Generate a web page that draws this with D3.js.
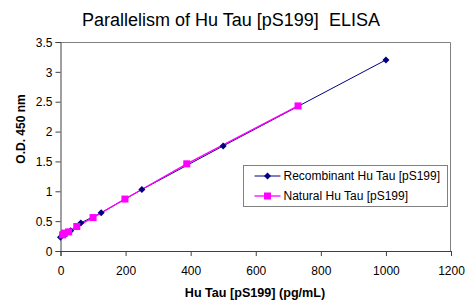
<!DOCTYPE html>
<html>
<head>
<meta charset="utf-8">
<script src="https://cdn.jsdelivr.net/npm/d3@7"></script>
<style>
  body { margin: 0; background: #fff; }
  text { font-family: Arial, "Liberation Sans", sans-serif; }
</style>
</head>
<body>
<div id="chart"></div>
<script>
// data
var recConc = [0, 15.6, 31.25, 62.5, 125, 250, 500, 1000];
var recOD   = [0.23, 0.28, 0.34, 0.47, 0.64, 1.03, 1.76, 3.2];
var natConc = [6.5, 12.5, 25, 50, 100, 198, 388, 730];
var natOD   = [0.27, 0.30, 0.32, 0.41, 0.56, 0.87, 1.46, 2.43];
var xTicks = [0, 200, 400, 600, 800, 1000, 1200];
var yTicks = [0, 0.5, 1, 1.5, 2, 2.5, 3, 3.5];

var W = 470, H = 301;
var margin = {top: 42, right: 19, bottom: 50, left: 60.5},
    width = W - margin.left - margin.right,
    height = H - margin.top - margin.bottom;

var svg = d3.select("#chart").append("svg")
    .attr("width", W)
    .attr("height", H);

var g = svg.append("g")
    .attr("transform", "translate(" + margin.left + "," + margin.top + ")");

var x = d3.scaleLinear().domain([0, 1200]).range([0, width]);
var y = d3.scaleLinear().domain([0, 3.5]).range([height, 0]);

// plot frame (top and right)
g.append("path")
    .attr("d", "M0,0.5H" + (width - 0.5) + "V" + height)
    .attr("fill", "none")
    .attr("stroke", "#808080");

var xAxis = d3.axisBottom(x).tickValues(xTicks).tickSize(5).tickFormat(d3.format("d"));
var yAxis = d3.axisLeft(y).tickValues(yTicks).tickSize(5).tickFormat(function(d) { return d; });

var gx = g.append("g")
    .attr("transform", "translate(0," + height + ")")
    .call(xAxis);
var gy = g.append("g").call(yAxis);

[gx, gy].forEach(function(a) {
  a.select(".domain").attr("stroke", "#404040");
  a.selectAll(".tick line").attr("stroke", "#404040");
  a.selectAll(".tick text")
    .attr("font-size", 12)
    .attr("fill", "#000")
    .style("font-family", "Arial, 'Liberation Sans', sans-serif");
});
gx.selectAll(".tick text").attr("dy", "0").attr("y", 24);
gy.selectAll(".tick text").attr("x", -8).attr("dy", "0.35em");

var recData = recConc.map(function(c, i) { return {c: c, v: recOD[i]}; });
var natData = natConc.map(function(c, i) { return {c: c, v: natOD[i]}; });

var line = d3.line()
    .x(function(d) { return x(d.c); })
    .y(function(d) { return y(d.v); });

g.append("path")
    .attr("d", line(recData))
    .attr("fill", "none")
    .attr("stroke", "#000080")
    .attr("stroke-width", 1);

g.append("path")
    .attr("d", line(natData))
    .attr("fill", "none")
    .attr("stroke", "#FF00FF")
    .attr("stroke-width", 1.3);

var diamond = function(s) { return "M0," + (-s) + "L" + s + ",0L0," + s + "L" + (-s) + ",0Z"; };

g.selectAll(".rec").data(recData).enter().append("path")
    .attr("class", "rec")
    .attr("transform", function(d) { return "translate(" + x(d.c) + "," + y(d.v) + ")"; })
    .attr("d", diamond(3.5))
    .attr("fill", "#000080");

g.selectAll(".nat").data(natData).enter().append("rect")
    .attr("class", "nat")
    .attr("x", function(d) { return x(d.c) - 3.5; })
    .attr("y", function(d) { return y(d.v) - 3.5; })
    .attr("width", 7)
    .attr("height", 7)
    .attr("fill", "#FF00FF");

// title and axis labels
svg.append("text")
    .attr("x", 231)
    .attr("y", 26)
    .attr("text-anchor", "middle")
    .attr("font-size", 18)
    .style("white-space", "pre")
    .text("Parallelism of Hu Tau [pS199]  ELISA");

svg.append("text")
    .attr("x", 255)
    .attr("y", 297)
    .attr("text-anchor", "middle")
    .attr("font-size", 12.6)
    .attr("font-weight", "bold")
    .text("Hu Tau [pS199] (pg/mL)");

svg.append("text")
    .attr("transform", "translate(25,129) rotate(-90)")
    .attr("text-anchor", "middle")
    .attr("font-size", 12)
    .attr("font-weight", "bold")
    .text("O.D. 450 nm");

// legend
var lg = svg.append("g").attr("transform", "translate(243.5,165.5)");
lg.append("rect")
    .attr("width", 204)
    .attr("height", 41)
    .attr("fill", "#fff")
    .attr("stroke", "#808080");

var legendItems = [
  {name: "Recombinant Hu Tau [pS199]", color: "#000080", type: "diamond"},
  {name: "Natural Hu Tau [pS199]", color: "#FF00FF", type: "square"}
];

legendItems.forEach(function(it, i) {
  var yy = 10.5 + i * 20;
  lg.append("line")
    .attr("x1", 11).attr("x2", 37)
    .attr("y1", yy).attr("y2", yy)
    .attr("stroke", it.color)
    .attr("stroke-width", i === 0 ? 1 : 1.3);
  if (it.type === "diamond") {
    lg.append("path")
      .attr("transform", "translate(24," + yy + ")")
      .attr("d", diamond(3.5))
      .attr("fill", it.color);
  } else {
    lg.append("rect")
      .attr("x", 20.5).attr("y", yy - 3.5)
      .attr("width", 7).attr("height", 7)
      .attr("fill", it.color);
  }
  lg.append("text")
    .attr("x", 40)
    .attr("y", yy)
    .attr("dy", "0.35em")
    .attr("font-size", 12)
    .text(it.name);
});
</script>
</body>
</html>
